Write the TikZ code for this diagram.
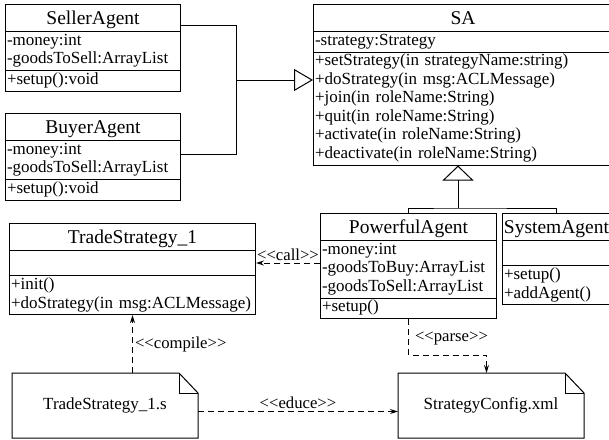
\documentclass[tikz,border=0pt]{standalone}
\usepackage{fontspec}
\setmainfont{Liberation Serif}
\usetikzlibrary{shapes.multipart,arrows.meta}

\tikzstyle{class box}=[draw,rectangle split,rectangle split parts=3,
    inner xsep=1.5pt,inner ysep=0.5pt,anchor=north west,
    font=\fontsize{17}{18.5}\selectfont]
\tikzstyle{file box}=[minimum width=185pt,minimum height=64pt,inner sep=0pt,
    anchor=north west,font=\fontsize{17}{18.5}\selectfont]
\tikzstyle{stereotype}=[inner sep=2pt,font=\fontsize{16.7}{18.5}\selectfont]
\tikzstyle{dependency}=[dash pattern=on 6pt off 4pt,-{Stealth[length=8pt,width=5pt]}]
\tikzstyle{inheritance}=[-{Triangle[open,length=19pt,width=22pt]}]

\newcommand{\ctitle}[1]{\hbox to\hsize{\hss\fontsize{19.5}{24}\selectfont
    \rule[-6.5pt]{0pt}{25pt}#1\hss}}
\newcommand{\blank}{\rule{0pt}{17.5pt}}
\newcommand{\stereo}[1]{<\kern0pt<#1>\kern0pt>}
\newcommand{\umlclass}[6]{
    \node[class box,text width=#3] at (#1) (#2)
        {\ctitle{#4}\nodepart{two}\strut#5\strut\nodepart{three}\strut#6\strut};
}
\newcommand{\filenote}[3]{
    \node[file box] at (#1) (#2) {#3};
    \draw (#2.north west) -- ([xshift=-19pt]#2.north east)
        -- ([yshift=-20pt]#2.north east) -- (#2.south east)
        -- (#2.south west) -- cycle;
    \draw ([xshift=-19pt]#2.north east) |- ([yshift=-20pt]#2.north east);
}

\begin{document}
\begin{tikzpicture}[x=1pt,y=-1pt,line width=1pt]
    \clip (0,0) rectangle (609,439);

    \umlclass{5,4}{SellerAgent}{172pt}{SellerAgent}
        {-money:int\\-goodsToSell:ArrayList}{+setup():void}
    \umlclass{5,113}{BuyerAgent}{172pt}{BuyerAgent}
        {-money:int\\-goodsToSell:ArrayList}{+setup():void}
    \umlclass{313,4}{SA}{296pt}{SA}
        {-strategy:Strategy}
        {+setStrategy(in strategyName:string)\\+doStrategy(in msg:ACLMessage)\\
         +join(in roleName:String)\\+quit(in roleName:String)\\
         +activate(in roleName:String)\\+deactivate(in roleName:String)}
    \umlclass{320,213}{PowerfulAgent}{173pt}{PowerfulAgent}
        {-money:int\\-goodsToBuy:ArrayList\\-goodsToSell:ArrayList}{+setup()}
    \umlclass{502,213}{SystemAgent}{105pt}{SystemAgent}
        {\blank}{+setup()\\+addAgent()}
    \umlclass{9,223}{TradeStrategy}{243pt}{TradeStrategy\_1}
        {\blank}{+init()\\+doStrategy(in msg:ACLMessage)}

    \filenote{12,373}{TradeFile}{TradeStrategy\_1.s}
    \filenote{398,373}{ConfigFile}{StrategyConfig.xml}

    % generalisation
    \coordinate (gen) at (236,80);
    \draw ([yshift=-21pt]SellerAgent.north east) -| (gen);
    \draw ([yshift=-41pt]BuyerAgent.north east) -| (gen);
    \draw[inheritance] (gen) -- (gen -| SA.west);
    \coordinate (bus) at (458,208);
    \draw (PowerfulAgent.north) |- (bus) -| (SystemAgent.north);
    \draw[inheritance,-{Triangle[open,length=15pt,width=31pt]}] (bus) -- (bus |- SA.south);

    % dependencies
    \draw[dependency] ([yshift=-50pt]PowerfulAgent.north west)
        -- node[stereotype,above]{\stereo{call}} ([yshift=-40pt]TradeStrategy.north east);
    \draw[dependency] (TradeFile.north -| TradeStrategy.south)
        -- node[stereotype,right]{\stereo{compile}} (TradeStrategy.south);
    \draw[dependency] ([yshift=-6pt]TradeFile.east)
        -- node[stereotype,above]{\stereo{educe}} ([yshift=-6pt]ConfigFile.west);
    \draw[dependency] (PowerfulAgent.south)
        -- node[stereotype,right,pos=0.55,xshift=4pt]{\stereo{parse}} ++(0,36)
        -| ([xshift=-4.5pt]ConfigFile.north);
\end{tikzpicture}
\end{document}
